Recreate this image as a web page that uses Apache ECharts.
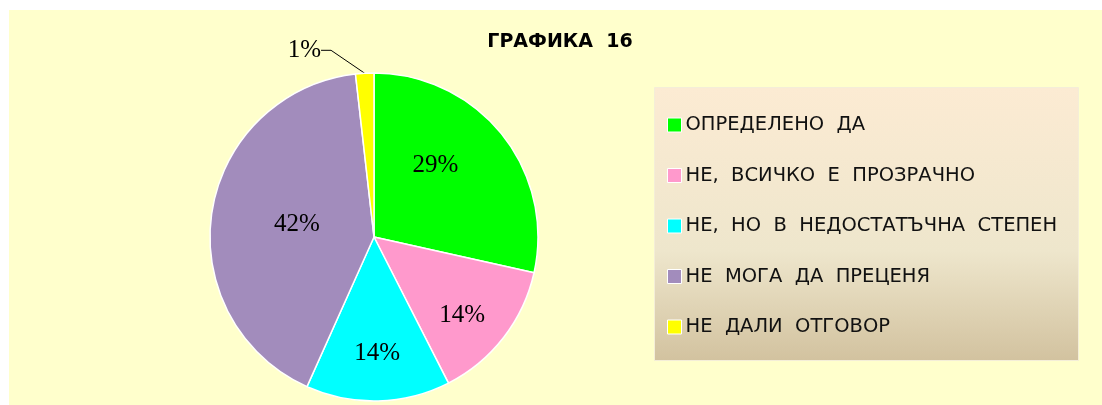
<!DOCTYPE html>
<html>
<head>
<meta charset="utf-8">
<script src="https://cdn.jsdelivr.net/npm/echarts@6/dist/echarts.min.js"></script>
<style>
  html, body { margin: 0; padding: 0; background: #fff; }
  .pie { position: absolute; left: 9px; top: 10px; width: 1093px; height: 395px; background: #FFFFCC; }
</style>
</head>
<body>
<div class="pie"></div>
<script>
var categories = ['ОПРЕДЕЛЕНО  ДА', 'НЕ,  ВСИЧКО  Е  ПРОЗРАЧНО', 'НЕ,  НО  В  НЕДОСТАТЪЧНА  СТЕПЕН', 'НЕ  МОГА  ДА  ПРЕЦЕНЯ', 'НЕ  ДАЛИ  ОТГОВОР'];
var values = [28.5, 14.0, 14.2, 41.5, 1.8];
var pctLabels = ['29%', '14%', '14%', '42%', '1%'];
var colors = ['#00FF00', '#FF99CC', '#00FFFF', '#A28CBC', '#FFFF00'];
// nudges for the percent labels, like Excel placed them
var labelShift = [[-5, -18], [21, 26], [1, 31], [7, 0], [-27, 7]];

var myChart = echarts.init(document.querySelector('.pie'));

var data = categories.map(function (name, i) {
    var item = { name: name, value: values[i], itemStyle: { color: colors[i] } };
    if (i === 4) {
        item.label = { position: 'outside' };
        item.labelLine = { show: true, length: 30, length2: 10, lineStyle: { color: '#000', width: 1 } };
    }
    return item;
});

var option = {
    animation: false,
    title: {
        text: 'ГРАФИКА  16',
        left: 546,
        top: 18,
        textAlign: 'center',
        textStyle: {
            fontFamily: 'DejaVu Sans',
            fontSize: 19,
            fontWeight: 'bold',
            color: '#000'
        }
    },
    graphic: [
        {
            type: 'rect',
            left: 645,
            top: 77,
            z: -1,
            shape: { width: 424, height: 273 },
            style: {
                fill: {
                    type: 'linear',
                    x: 0, y: 0, x2: 0, y2: 1,
                    colorStops: [
                        { offset: 0, color: '#FCEBD3' },
                        { offset: 0.6, color: '#EEE6CC' },
                        { offset: 1, color: '#D2C29F' }
                    ]
                },
                stroke: '#F4EED8',
                lineWidth: 1
            }
        }
    ],
    legend: {
        orient: 'vertical',
        left: 658,
        top: 105,
        padding: 0,
        icon: 'rect',
        itemWidth: 14,
        itemHeight: 14,
        itemGap: 30.5,
        itemStyle: { borderColor: '#fff', borderWidth: 1 },
        textStyle: {
            fontFamily: 'DejaVu Sans',
            fontSize: 19.5,
            lineHeight: 20,
            color: '#111',
            padding: [0, 0, 0, -1]
        },
        data: categories
    },
    series: [
        {
            type: 'pie',
            center: [365, 227],
            radius: 164,
            startAngle: 90,
            clockwise: true,
            avoidLabelOverlap: false,
            itemStyle: { borderColor: '#fff', borderWidth: 1.5 },
            label: {
                position: 'inside',
                formatter: function (p) { return pctLabels[p.dataIndex]; },
                fontFamily: 'Liberation Serif',
                fontSize: 25,
                color: '#000'
            },
            labelLine: { show: false },
            labelLayout: function (p) {
                var s = labelShift[p.dataIndex];
                var r = p.labelRect;
                return {
                    x: r.x + r.width / 2 + s[0],
                    y: r.y + r.height / 2 + s[1],
                    align: 'center',
                    verticalAlign: 'middle'
                };
            },
            emphasis: { disabled: true },
            data: data
        }
    ]
};
myChart.setOption(option);
window.addEventListener('resize', function () {
    myChart.resize();
});
</script>
</body>
</html>
